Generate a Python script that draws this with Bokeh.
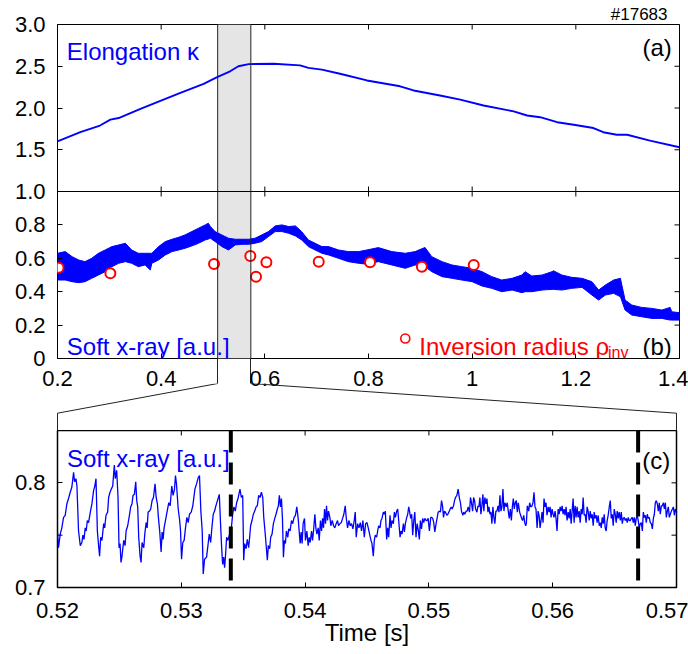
import numpy as np
from bokeh.plotting import figure
from bokeh.models import Range1d, FixedTicker, BoxAnnotation, Span, Label
from bokeh.layouts import column
from bokeh.embed import file_html
from bokeh.resources import INLINE

FONT = "Liberation Sans"
TICK_FS = "22px"
TEXT_FS = "24px"
BLUE = "#0000ff"
RED = "#ff0000"

# ---------------- data ----------------
# (a) elongation kappa
kappa_t = [0.200, 0.244, 0.282, 0.302, 0.318, 0.360, 0.437, 0.482, 0.508, 0.533,
           0.549, 0.569, 0.617, 0.668, 0.684, 0.710, 0.745, 0.797, 0.861, 0.887,
           0.938, 0.977, 1.022, 1.080, 1.106, 1.131, 1.164, 1.196, 1.234, 1.253,
           1.279, 1.299, 1.343, 1.400]
kappa = [1.60, 1.71, 1.79, 1.86, 1.88, 1.99, 2.18, 2.29, 2.37, 2.44,
         2.50, 2.525, 2.53, 2.51, 2.48, 2.46, 2.41, 2.33, 2.26, 2.21,
         2.15, 2.10, 2.03, 1.96, 1.91, 1.89, 1.83, 1.80, 1.76, 1.71,
         1.68, 1.68, 1.61, 1.53]

# (b) soft x-ray signal: envelope of the fast oscillating trace
sxr_t = [0.200, 0.215, 0.228, 0.241, 0.253, 0.266, 0.279, 0.292, 0.305, 0.318,
         0.331, 0.343, 0.356, 0.369, 0.379, 0.382, 0.395, 0.408, 0.421, 0.434,
         0.446, 0.459, 0.472, 0.485, 0.491, 0.495, 0.504, 0.517, 0.530, 0.543,
         0.556, 0.569, 0.581, 0.594, 0.607, 0.620, 0.633, 0.646, 0.659, 0.671,
         0.684, 0.697, 0.710, 0.723, 0.742, 0.761, 0.781, 0.797, 0.819, 0.845,
         0.871, 0.890, 0.909, 0.922, 0.942, 0.961, 0.980, 1.000, 1.019, 1.038,
         1.057, 1.077, 1.096, 1.102, 1.115, 1.135, 1.154, 1.157, 1.173, 1.192,
         1.212, 1.231, 1.244, 1.257, 1.273, 1.286, 1.295, 1.308, 1.327, 1.347,
         1.366, 1.382, 1.385, 1.400]
sxr_hi = [0.63, 0.64, 0.61, 0.59, 0.58, 0.60, 0.63, 0.65, 0.67, 0.68,
          0.69, 0.65, 0.63, 0.63, 0.63, 0.63, 0.67, 0.70, 0.714, 0.726,
          0.74, 0.76, 0.78, 0.80, 0.81, 0.79, 0.76, 0.74, 0.72, 0.714,
          0.714, 0.714, 0.72, 0.74, 0.76, 0.794, 0.80, 0.79, 0.794, 0.76,
          0.71, 0.69, 0.67, 0.67, 0.65, 0.64, 0.64, 0.65, 0.664, 0.64,
          0.63, 0.64, 0.665, 0.61, 0.58, 0.56, 0.55, 0.54, 0.52, 0.49,
          0.47, 0.48, 0.50, 0.52, 0.494, 0.50, 0.52, 0.525, 0.50, 0.486,
          0.48, 0.46, 0.41, 0.44, 0.47, 0.48, 0.35, 0.32, 0.306, 0.30,
          0.29, 0.306, 0.28, 0.274]
sxr_lo = [0.47, 0.47, 0.46, 0.454, 0.46, 0.48, 0.50, 0.52, 0.55, 0.57,
          0.58, 0.57, 0.55, 0.56, 0.53, 0.57, 0.59, 0.62, 0.64, 0.65,
          0.66, 0.674, 0.69, 0.71, 0.715, 0.72, 0.70, 0.67, 0.65, 0.68,
          0.684, 0.684, 0.69, 0.70, 0.73, 0.76, 0.76, 0.75, 0.734, 0.71,
          0.67, 0.65, 0.63, 0.62, 0.60, 0.58, 0.57, 0.565, 0.58, 0.56,
          0.54, 0.56, 0.55, 0.52, 0.49, 0.48, 0.47, 0.46, 0.434, 0.42,
          0.40, 0.41, 0.394, 0.40, 0.40, 0.41, 0.414, 0.414, 0.41, 0.42,
          0.426, 0.38, 0.35, 0.38, 0.39, 0.37, 0.29, 0.26, 0.25, 0.24,
          0.24, 0.23, 0.23, 0.23]

# (b) inversion radius
rho_t = [0.202, 0.302, 0.502, 0.572, 0.583, 0.603, 0.704, 0.803, 0.903, 1.003]
rho = [0.543, 0.51, 0.566, 0.614, 0.49, 0.576, 0.58, 0.576, 0.55, 0.56]

# (c) soft x-ray zoom; time in ms after 0.52 s
c1_ms = [0.00, 0.08, 0.22, 0.35, 0.49, 0.62, 0.76, 0.89, 1.03, 1.16,
         1.30, 1.38, 1.49, 1.57, 1.70, 1.84, 1.97, 2.05, 2.14, 2.24,
         2.32, 2.41, 2.51, 2.65, 2.78, 2.92, 3.00, 3.11, 3.22, 3.32,
         3.40, 3.49, 3.59, 3.73, 3.81, 3.92, 4.05, 4.13, 4.24, 4.35,
         4.46, 4.59, 4.67, 4.78, 4.89, 4.97, 5.05, 5.13, 5.21, 5.35,
         5.46, 5.54, 5.67, 5.81, 5.91, 6.02, 6.10, 6.21, 6.32, 6.40,
         6.48, 6.56, 6.67, 6.75, 6.83, 6.97, 7.05, 7.16, 7.24, 7.32,
         7.43, 7.53, 7.64, 7.75, 7.88, 7.97, 8.07, 8.15, 8.26, 8.37,
         8.45, 8.53, 8.61, 8.72, 8.86, 8.99, 9.10, 9.23, 9.34, 9.45,
         9.53, 9.61, 9.75, 9.86, 9.94, 10.02, 10.12, 10.23, 10.34, 10.45,
         10.56, 10.66, 10.80, 10.93, 11.10, 11.23, 11.37, 11.47, 11.58, 11.69,
         11.77, 11.88, 12.04, 12.18, 12.26, 12.37, 12.47, 12.58, 12.69, 12.77]
c1_y = [0.753, 0.738, 0.751, 0.757, 0.767, 0.769, 0.780, 0.785, 0.791, 0.796,
        0.810, 0.801, 0.804, 0.797, 0.754, 0.740, 0.743, 0.750, 0.746, 0.757,
        0.754, 0.764, 0.762, 0.772, 0.780, 0.793, 0.796, 0.804, 0.754, 0.740,
        0.730, 0.748, 0.745, 0.761, 0.757, 0.769, 0.772, 0.786, 0.791, 0.794,
        0.797, 0.817, 0.804, 0.812, 0.786, 0.738, 0.742, 0.724, 0.730, 0.745,
        0.740, 0.754, 0.759, 0.769, 0.777, 0.780, 0.788, 0.789, 0.801, 0.783,
        0.777, 0.748, 0.730, 0.724, 0.743, 0.738, 0.751, 0.762, 0.757, 0.772,
        0.773, 0.775, 0.783, 0.786, 0.799, 0.786, 0.780, 0.767, 0.753, 0.734,
        0.753, 0.746, 0.757, 0.764, 0.773, 0.781, 0.778, 0.797, 0.788, 0.794,
        0.807, 0.799, 0.775, 0.765, 0.754, 0.727, 0.743, 0.745, 0.757, 0.767,
        0.762, 0.770, 0.772, 0.778, 0.794, 0.799, 0.805, 0.807, 0.773, 0.754,
        0.713, 0.727, 0.729, 0.743, 0.751, 0.743, 0.757, 0.770, 0.773, 0.777]
c2_ms = [13.07, 13.17, 13.26, 13.34, 13.42, 13.50, 13.58, 13.66, 13.77, 13.88,
         13.98, 14.06, 14.15, 14.25, 14.36, 14.47, 14.60, 14.74, 14.85, 14.96,
         15.04, 15.12, 15.23, 15.33, 15.44, 15.52, 15.60, 15.71, 15.82, 15.93,
         16.04, 16.14, 16.25, 16.36, 16.47, 16.58, 16.66, 16.76, 16.87, 16.95,
         17.03, 17.14, 17.22, 17.33, 17.44, 17.55, 17.65, 17.76, 17.84, 17.92,
         18.01, 18.09, 18.17, 18.25, 18.33, 18.41, 18.49, 18.60, 18.68, 18.79,
         18.90, 19.00, 19.11, 19.22, 19.33, 19.44, 19.52, 19.60, 19.68, 19.76,
         19.84, 19.95, 20.03, 20.14, 20.25, 20.33, 20.41, 20.52, 20.60, 20.68,
         20.79, 20.87, 20.95, 21.06, 21.14, 21.24, 21.33, 21.41, 21.49, 21.57,
         21.65, 21.73, 21.81, 21.89, 22.00, 22.08, 22.19, 22.30, 22.40, 22.51,
         22.62, 22.70, 22.81, 22.92, 23.03, 23.13, 23.24, 23.32, 23.43, 23.54,
         23.65, 23.75, 23.86, 23.97, 24.05, 24.13, 24.24, 24.35, 24.46, 24.56,
         24.67, 24.78, 24.89, 25.00, 25.10, 25.21, 25.32]
c2_y = [0.789, 0.761, 0.738, 0.722, 0.729, 0.719, 0.732, 0.748, 0.745, 0.750,
        0.754, 0.759, 0.770, 0.777, 0.773, 0.781, 0.786, 0.794, 0.786, 0.788,
        0.726, 0.742, 0.737, 0.746, 0.738, 0.748, 0.759, 0.764, 0.770, 0.773,
        0.777, 0.778, 0.788, 0.786, 0.791, 0.786, 0.767, 0.754, 0.738, 0.726,
        0.740, 0.737, 0.748, 0.751, 0.761, 0.766, 0.770, 0.775, 0.778, 0.788,
        0.777, 0.785, 0.766, 0.729, 0.745, 0.742, 0.754, 0.748, 0.756, 0.754,
        0.764, 0.761, 0.767, 0.769, 0.777, 0.766, 0.754, 0.742, 0.753, 0.742,
        0.761, 0.766, 0.745, 0.754, 0.740, 0.748, 0.743, 0.754, 0.745, 0.754,
        0.770, 0.757, 0.751, 0.757, 0.745, 0.764, 0.754, 0.766, 0.757, 0.775,
        0.761, 0.778, 0.764, 0.773, 0.767, 0.759, 0.764, 0.759, 0.757, 0.761,
        0.764, 0.759, 0.761, 0.762, 0.766, 0.770, 0.778, 0.767, 0.757, 0.764,
        0.759, 0.761, 0.756, 0.764, 0.772, 0.748, 0.761, 0.757, 0.762, 0.754,
        0.764, 0.748, 0.761, 0.762, 0.757, 0.751, 0.745]
c3_ms = [25.40, 25.51, 25.59, 25.67, 25.78, 25.86, 25.94, 26.05, 26.13, 26.21,
         26.32, 26.40, 26.48, 26.59, 26.67, 26.75, 26.86, 26.94, 27.02, 27.13,
         27.21, 27.29, 27.40, 27.48, 27.56, 27.67, 27.75, 27.83, 27.94, 28.02,
         28.10, 28.21, 28.29, 28.37, 28.45, 28.53, 28.61, 28.69, 28.78, 28.86,
         28.96, 29.05, 29.15, 29.23, 29.31, 29.40, 29.50, 29.58, 29.67, 29.77,
         29.85, 29.94, 30.04, 30.15, 30.23, 30.31, 30.39, 30.48, 30.58, 30.66,
         30.75, 30.85, 30.93, 31.02, 31.10, 31.18, 31.26, 31.34, 31.45, 31.53,
         31.61, 31.72, 31.80, 31.88, 31.99, 32.07, 32.15, 32.26, 32.36, 32.47,
         32.55, 32.63, 32.74, 32.82, 32.90, 33.01, 33.09, 33.17, 33.28, 33.36,
         33.44, 33.53, 33.61, 33.69, 33.77, 33.88, 33.96, 34.04, 34.12, 34.20,
         34.28, 34.36, 34.44, 34.52, 34.61, 34.69, 34.77, 34.85, 34.93, 35.01,
         35.09, 35.17, 35.25, 35.33, 35.41, 35.50, 35.58, 35.66, 35.74, 35.82,
         35.90, 35.98, 36.06, 36.14, 36.25, 36.33, 36.41, 36.49, 36.58, 36.66,
         36.74, 36.82, 36.90, 36.98, 37.06, 37.14, 37.22, 37.33, 37.41, 37.49,
         37.57, 37.66, 37.74, 37.82, 37.87]
c3_y = [0.742, 0.730, 0.745, 0.750, 0.748, 0.754, 0.759, 0.757, 0.764, 0.766,
        0.772, 0.770, 0.773, 0.746, 0.757, 0.748, 0.769, 0.757, 0.764, 0.761,
        0.772, 0.767, 0.773, 0.775, 0.764, 0.748, 0.754, 0.751, 0.761, 0.753,
        0.761, 0.767, 0.770, 0.777, 0.772, 0.766, 0.770, 0.750, 0.764, 0.772,
        0.748, 0.761, 0.754, 0.746, 0.764, 0.756, 0.766, 0.762, 0.766, 0.764,
        0.764, 0.766, 0.754, 0.767, 0.767, 0.766, 0.762, 0.753, 0.761, 0.766,
        0.772, 0.773, 0.772, 0.783, 0.778, 0.767, 0.773, 0.772, 0.769, 0.770,
        0.772, 0.775, 0.777, 0.775, 0.778, 0.783, 0.786, 0.788, 0.794, 0.785,
        0.781, 0.773, 0.769, 0.772, 0.770, 0.773, 0.773, 0.777, 0.772, 0.786,
        0.781, 0.773, 0.786, 0.783, 0.775, 0.772, 0.778, 0.777, 0.786, 0.770,
        0.778, 0.789, 0.773, 0.786, 0.780, 0.785, 0.772, 0.777, 0.770, 0.772,
        0.761, 0.777, 0.767, 0.761, 0.773, 0.773, 0.778, 0.772, 0.788, 0.773,
        0.777, 0.794, 0.773, 0.781, 0.777, 0.781, 0.773, 0.766, 0.775, 0.764,
        0.777, 0.785, 0.775, 0.781, 0.783, 0.772, 0.781, 0.772, 0.769, 0.766,
        0.764, 0.769, 0.762, 0.759, 0.761]
c4_ms = [37.95, 38.06, 38.14, 38.22, 38.33, 38.41, 38.49, 38.57, 38.65, 38.74,
         38.82, 38.90, 38.98, 39.06, 39.14, 39.22, 39.30, 39.38, 39.46, 39.54,
         39.63, 39.71, 39.79, 39.87, 39.95, 40.03, 40.11, 40.19, 40.27, 40.35,
         40.44, 40.52, 40.60, 40.68, 40.76, 40.84, 40.92, 41.00, 41.08, 41.16,
         41.25, 41.33, 41.41, 41.49, 41.57, 41.65, 41.73, 41.81, 41.89, 41.97,
         42.05, 42.14, 42.22, 42.30, 42.38, 42.46, 42.54, 42.62, 42.70, 42.78,
         42.86, 42.95, 43.03, 43.11, 43.19, 43.27, 43.35, 43.43, 43.51, 43.59,
         43.67, 43.76, 43.84, 43.92, 44.00, 44.08, 44.16, 44.24, 44.32, 44.40,
         44.48, 44.57, 44.65, 44.73, 44.81, 44.89, 44.97, 45.05, 45.13, 45.21,
         45.29, 45.37, 45.46, 45.54, 45.62, 45.70, 45.78, 45.86, 45.94, 46.02,
         46.10, 46.18, 46.27, 46.35, 46.43, 46.51, 46.59, 46.67, 46.75, 46.83,
         46.91, 46.99, 47.08, 47.16, 47.24, 47.32, 47.40, 47.48, 47.56, 47.64,
         47.72, 47.80, 47.88, 47.97, 48.05, 48.13, 48.21, 48.29, 48.37, 48.45,
         48.53, 48.61, 48.69, 48.78, 48.86, 48.94, 49.02, 49.10, 49.18, 49.26,
         49.34, 49.42, 49.50, 49.59, 49.67, 49.75, 49.83, 49.91, 49.99, 50.07]
c4_y = [0.778, 0.773, 0.781, 0.777, 0.778, 0.781, 0.791, 0.777, 0.775, 0.757,
        0.773, 0.769, 0.757, 0.764, 0.772, 0.762, 0.785, 0.777, 0.781, 0.769,
        0.777, 0.772, 0.777, 0.767, 0.775, 0.770, 0.767, 0.773, 0.766, 0.754,
        0.775, 0.770, 0.777, 0.773, 0.778, 0.770, 0.775, 0.769, 0.777, 0.764,
        0.772, 0.766, 0.775, 0.761, 0.773, 0.785, 0.762, 0.778, 0.767, 0.777,
        0.767, 0.773, 0.762, 0.775, 0.770, 0.786, 0.769, 0.770, 0.762, 0.777,
        0.773, 0.764, 0.773, 0.766, 0.770, 0.759, 0.772, 0.766, 0.769, 0.762,
        0.769, 0.759, 0.762, 0.757, 0.767, 0.761, 0.770, 0.757, 0.754, 0.764,
        0.769, 0.777, 0.783, 0.766, 0.770, 0.759, 0.775, 0.770, 0.762, 0.773,
        0.766, 0.772, 0.764, 0.772, 0.761, 0.766, 0.767, 0.764, 0.766, 0.762,
        0.767, 0.764, 0.764, 0.766, 0.767, 0.762, 0.767, 0.759, 0.766, 0.769,
        0.764, 0.757, 0.761, 0.762, 0.754, 0.772, 0.767, 0.769, 0.762, 0.770,
        0.766, 0.767, 0.762, 0.761, 0.756, 0.766, 0.770, 0.781, 0.783, 0.780,
        0.773, 0.781, 0.770, 0.778, 0.778, 0.781, 0.775, 0.781, 0.767, 0.773,
        0.777, 0.767, 0.770, 0.773, 0.775, 0.777, 0.769, 0.775, 0.772, 0.770]

# ticks / labels
xab_ticks = [0.2, 0.4, 0.6, 0.8, 1.0, 1.2, 1.4]
xab_labels = ["0.2", "0.4", "0.6", "0.8", "1", "1.2", "1.4"]
ka_ticks = [1.0, 1.5, 2.0, 2.5, 3.0]
ka_labels = ["1.0", "1.5", "2.0", "2.5", "3.0"]
sb_ticks = [0.0, 0.2, 0.4, 0.6, 0.8]
sb_labels = ["0", "0.2", "0.4", "0.6", "0.8"]
xc_ticks = [0.52, 0.53, 0.54, 0.55, 0.56, 0.57]
xc_labels = ["0.52", "0.53", "0.54", "0.55", "0.56", "0.57"]
yc_ticks = [0.7, 0.75, 0.8]
yc_label_ticks = [0.7, 0.8]
yc_labels = ["0.7", "0.8"]

zoom_window = [0.509, 0.573]      # shaded interval shown in (c)
crash_times = [0.534, 0.5669]     # dashed markers in (c)

# ---------------- layout constants (pixels) ----------------
W = 688
L = 57
AB_W, AB_H, TOP, AB_BOT = 622, 334, 24, 40
KNEE1 = 25                       # px below (b) where the connectors turn
GAP = 72                         # px from bottom of (b) to top of (c)
KNEE2 = GAP - 17.3               # px below (b) where connectors meet (c) edges
CONN_H = GAP - KNEE1
C_W, C_H, C_BOT = 619, 157, 67
KAPPA_LO, KAPPA_HI = -1.0, 3.0   # kappa range occupies upper half


def to_ab(v):
    return (v - KAPPA_LO) / (KAPPA_HI - KAPPA_LO) * 2.0


def style_axis(ax, standoff):
    ax.axis_line_color = None
    ax.major_tick_in = 5
    ax.major_tick_out = 0
    ax.major_tick_line_color = "black"
    ax.minor_tick_line_color = None
    ax.major_label_text_font = FONT
    ax.major_label_text_color = "black"
    ax.major_label_text_font_size = TICK_FS
    ax.major_label_standoff = standoff


def edge_ticks(p, xs, ys, vertical):
    # inward tick marks on frame edges (half of each dash is clipped away)
    p.scatter(xs, ys, marker="dash", angle=(np.pi / 2 if vertical else 0.0),
              size=10, line_color="black", line_width=1)


def lab(p, x, y, text, color="black", align="left", size=TEXT_FS, yr="default"):
    p.add_layout(Label(x=x, y=y, text=text, text_color=color, text_align=align,
                       text_baseline="alphabetic", text_font=FONT,
                       text_font_size=size, y_range_name=yr))


# ---------------- panels (a)+(b) ----------------
pab = figure(frame_width=AB_W, frame_height=AB_H,
             x_range=Range1d(0.2, 1.4), y_range=Range1d(0, 2),
             min_border_left=L, min_border_right=W - L - AB_W,
             min_border_top=TOP, min_border_bottom=AB_BOT,
             output_backend="svg", toolbar_location=None, title="#17683")
pab.frame_align = False
pab.extra_y_ranges = {"kappa": Range1d(KAPPA_LO, KAPPA_HI)}
pab.grid.visible = False
pab.outline_line_color = "black"
pab.outline_line_width = 1
pab.title.align = "right"
pab.title.offset = 12
pab.title.text_font = FONT
pab.title.text_font_size = "17px"
pab.title.text_font_style = "normal"
pab.title.text_color = "black"
pab.title.standoff = 1

yl_ticks = sb_ticks + [to_ab(v) for v in ka_ticks]
yl_labels = sb_labels + ka_labels

bx = pab.xaxis[0]
# minor ticks = edges of the zoom window, continued below the frame
bx.ticker = FixedTicker(ticks=xab_ticks, minor_ticks=zoom_window)
bx.major_label_overrides = dict(zip(xab_ticks, xab_labels))
style_axis(bx, 12 - KNEE1)
bx.minor_tick_line_color = "#222222"
bx.minor_tick_in = 0
bx.minor_tick_out = KNEE1
ly = pab.yaxis[0]
ly.ticker = FixedTicker(ticks=yl_ticks, minor_ticks=[])
ly.major_label_overrides = dict(zip(yl_ticks, yl_labels))
style_axis(ly, 12)

pab.add_layout(BoxAnnotation(left=zoom_window[0], right=zoom_window[1],
                             fill_color="#e5e5e5", fill_alpha=1.0,
                             line_color=None, level="underlay"))
for zx in zoom_window:
    pab.add_layout(Span(location=zx, dimension="height",
                        line_color="#222222", line_width=1))
pab.add_layout(Span(location=to_ab(ka_ticks[0]), dimension="width",
                    line_color="black", line_width=1))

edge_ticks(pab, xab_ticks, [2.0] * len(xab_ticks), True)
edge_ticks(pab, xab_ticks, [to_ab(ka_ticks[0])] * len(xab_ticks), True)
edge_ticks(pab, [1.4] * len(yl_ticks), yl_ticks, False)

pab.varea(x=sxr_t, y1=sxr_lo, y2=sxr_hi, fill_color=BLUE)
pab.line(sxr_t, sxr_hi, line_color=BLUE, line_width=1)
pab.line(sxr_t, sxr_lo, line_color=BLUE, line_width=1)
pab.line(kappa_t, kappa, y_range_name="kappa", line_color=BLUE, line_width=1.9)
pab.scatter(rho_t, rho, marker="circle", size=10, fill_color="white",
            line_color=RED, line_width=2)

lab(pab, 0.218, 2.68, "Elongation κ", BLUE, yr="kappa")
lab(pab, 1.385, 2.73, "(a)", align="right", yr="kappa")
lab(pab, 0.218, 0.07, "Soft x-ray [a.u.]", BLUE)
pab.scatter([0.871], [0.12], marker="circle", size=9, fill_color="white",
            line_color=RED, line_width=1.6)
lab(pab, 0.898, 0.07, "Inversion radius ρ", RED)
lab(pab, 1.262, 0.035, "inv", RED, size="16px")
lab(pab, 1.385, 0.07, "(b)", align="right")

# ---------------- transparent strip carrying the zoom connectors ----------------
dx = 1.2 / AB_W                      # x units per pixel in (a)/(b)
pconn = figure(frame_width=W, frame_height=CONN_H,
               x_range=Range1d(0.2 - L * dx, 1.4 + (W - L - AB_W) * dx),
               y_range=Range1d(-GAP, -KNEE1),
               min_border_left=0, min_border_right=0,
               min_border_top=0, min_border_bottom=0,
               x_axis_location=None, y_axis_location=None,
               output_backend="svg", toolbar_location=None,
               margin=(-(AB_BOT - KNEE1), 0, 0, 0))
pconn.frame_align = False
pconn.grid.visible = False
pconn.outline_line_color = None
pconn.background_fill_color = None
pconn.border_fill_color = None
x_cl = 0.2
x_cr = 0.2 + C_W * dx
pconn.segment(x0=[zoom_window[0], zoom_window[1], x_cl, x_cr],
              y0=[-KNEE1, -KNEE1, -KNEE2, -KNEE2],
              x1=[x_cl, x_cr, x_cl, x_cr],
              y1=[-KNEE2, -KNEE2, -GAP, -GAP],
              line_color="#222222", line_width=1)

# ---------------- panel (c) ----------------
pc = figure(frame_width=C_W, frame_height=C_H,
            x_range=Range1d(0.52, 0.57), y_range=Range1d(0.7, 0.85),
            min_border_left=L, min_border_right=W - L - C_W,
            min_border_top=0, min_border_bottom=C_BOT,
            output_backend="svg", toolbar_location=None)
pc.frame_align = False
pc.grid.visible = False
pc.outline_line_color = "black"
pc.outline_line_width = 1.5

c_ms = c1_ms + c2_ms + c3_ms + c4_ms
c_y = c1_y + c2_y + c3_y + c4_y
c_t = [0.52 + v / 1000.0 for v in c_ms]
pc.line(c_t, c_y, line_color=BLUE, line_width=1.3)
for tc in crash_times:
    pc.add_layout(Span(location=tc, dimension="height", line_color="black",
                       line_width=4, line_dash="22 10"))

cbx = pc.xaxis[0]
cbx.ticker = FixedTicker(ticks=xc_ticks, minor_ticks=[])
cbx.major_label_overrides = dict(zip(xc_ticks, xc_labels))
style_axis(cbx, 15)
cbx.axis_label = "Time [s]"
cbx.axis_label_text_font = FONT
cbx.axis_label_text_font_size = TEXT_FS
cbx.axis_label_text_font_style = "normal"
cbx.axis_label_text_color = "black"
cbx.axis_label_standoff = -2
cly = pc.yaxis[0]
cly.ticker = FixedTicker(ticks=yc_label_ticks, minor_ticks=[])
cly.major_label_overrides = dict(zip(yc_label_ticks, yc_labels))
style_axis(cly, 12)

edge_ticks(pc, xc_ticks, [0.85] * len(xc_ticks), True)
edge_ticks(pc, [0.57] * len(yc_ticks), yc_ticks, False)
edge_ticks(pc, [0.52], [0.75], False)

lab(pc, 0.52076, 0.823, "Soft x-ray [a.u.]", BLUE)
lab(pc, 0.5695, 0.821, "(c)", align="right")

layout = column(pab, pconn, pc, spacing=0)
open("out.html", "w").write(file_html(layout, INLINE))
